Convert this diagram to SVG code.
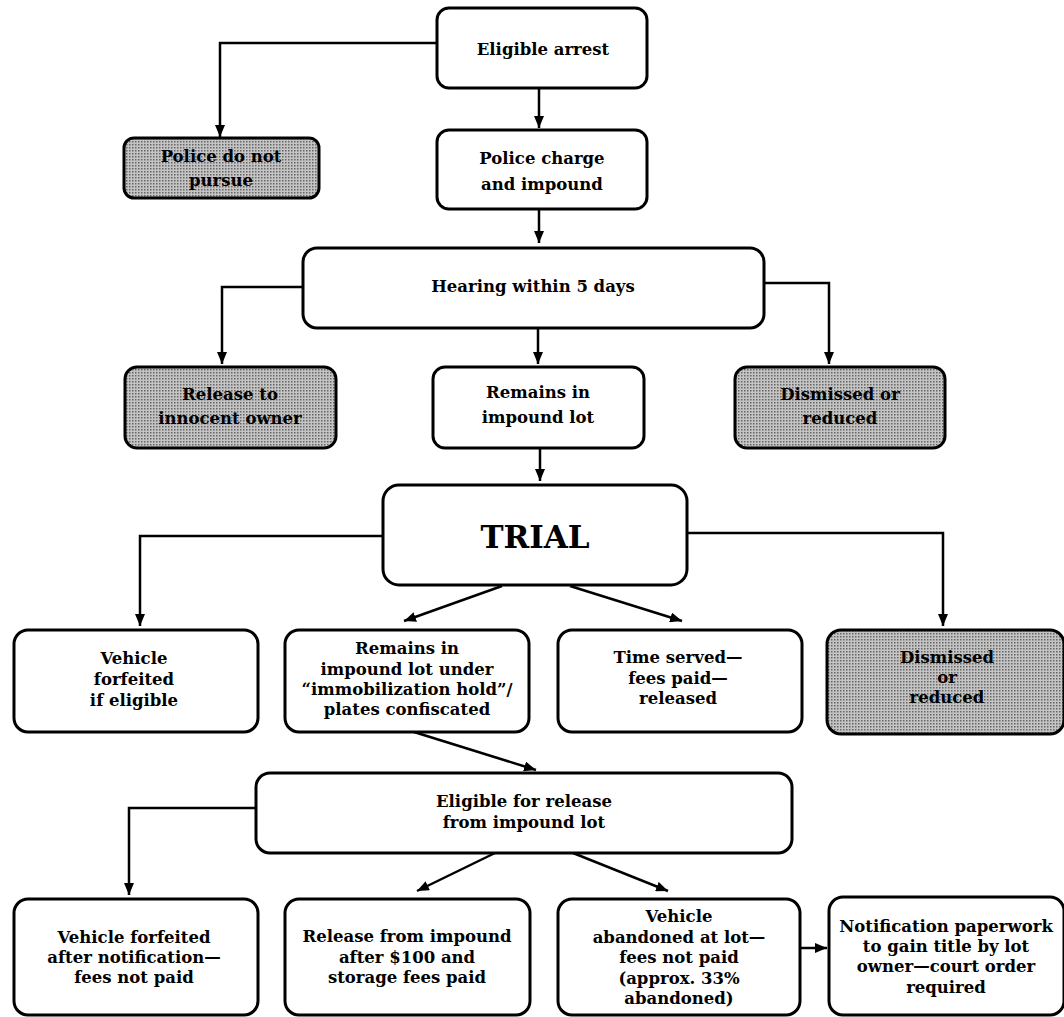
<svg xmlns="http://www.w3.org/2000/svg" width="1064" height="1017" viewBox="0 0 1064 1017">
<defs>
<pattern id="dots" width="3" height="3" patternUnits="userSpaceOnUse">
<rect width="3" height="3" fill="#c4c4c4"/>
<rect width="1.5" height="1.5" fill="#666"/>
</pattern>
<marker id="arr" viewBox="0 0 12 10" refX="12" refY="5" markerWidth="12" markerHeight="10" markerUnits="userSpaceOnUse" orient="auto">
<path d="M0,0 L12,5 L0,10 z" fill="#000"/>
</marker>
<style>
.box{fill:#fff;stroke:#000;stroke-width:3}
.shade{fill:url(#dots);stroke:#000;stroke-width:3}
.t{font-family:"DejaVu Serif","Liberation Serif",serif;font-weight:bold;font-size:16.5px;text-anchor:middle;fill:#000}
.big{font-size:31px}
.c{fill:none;stroke:#000;stroke-width:2.5;marker-end:url(#arr)}
</style>
</defs>
<rect width="1064" height="1017" fill="#fff"/>
<g id="connectors">
<path class="c" d="M437,43 H220 V137"/>
<path class="c" d="M539,88 V128"/>
<path class="c" d="M539,209 V243"/>
<path class="c" d="M303,287 H222 V364"/>
<path class="c" d="M538,328 V364"/>
<path class="c" d="M764,283 H829 V364"/>
<path class="c" d="M540,448 V481"/>
<path class="c" d="M383,536 H140 V626"/>
<path class="c" d="M687,533 H943 V626"/>
<path class="c" d="M502,586 L404,621"/>
<path class="c" d="M570,586 L682,621"/>
<path class="c" d="M414,732 L536,770"/>
<path class="c" d="M256,808 H129 V895"/>
<path class="c" d="M495,853 L417,891"/>
<path class="c" d="M573,853 L668,891"/>
<path class="c" d="M800,948 H827"/>
</g>
<g id="eligible-arrest"><rect class="box" x="437" y="8" width="210" height="80" rx="12"/><text class="t" x="543" y="55">Eligible arrest</text></g>
<g id="police-not-pursue"><rect class="shade" x="124" y="138" width="195" height="60" rx="10"/><text class="t" x="221" y="162">Police do not</text><text class="t" x="221" y="186">pursue</text></g>
<g id="police-charge"><rect class="box" x="437" y="130" width="210" height="79" rx="12"/><text class="t" x="542" y="164">Police charge</text><text class="t" x="542" y="190">and impound</text></g>
<g id="hearing"><rect class="box" x="303" y="248" width="461" height="80" rx="14"/><text class="t" x="533" y="292">Hearing within 5 days</text></g>
<g id="release-innocent"><rect class="shade" x="125" y="367" width="211" height="81" rx="12"/><text class="t" x="230" y="400">Release to</text><text class="t" x="230" y="424">innocent owner</text></g>
<g id="remains-impound"><rect class="box" x="433" y="367" width="211" height="81" rx="12"/><text class="t" x="538" y="398">Remains in</text><text class="t" x="538" y="423">impound lot</text></g>
<g id="dismissed-1"><rect class="shade" x="735" y="367" width="210" height="81" rx="12"/><text class="t" x="840" y="400">Dismissed  or</text><text class="t" x="840" y="424">reduced</text></g>
<g id="trial"><rect class="box" x="383" y="485" width="304" height="100" rx="16"/><text class="t big" x="535" y="548">TRIAL</text></g>
<g id="vehicle-forfeited-eligible"><rect class="box" x="14" y="630" width="244" height="102" rx="14"/><text class="t" x="134" y="664">Vehicle</text><text class="t" x="134" y="685">forfeited</text><text class="t" x="134" y="706">if eligible</text></g>
<g id="remains-hold"><rect class="box" x="285" y="630" width="244" height="102" rx="14"/><text class="t" x="407" y="654">Remains in</text><text class="t" x="407" y="675">impound lot under</text><text class="t" x="407" y="695">“immobilization hold”/</text><text class="t" x="407" y="715">plates confiscated</text></g>
<g id="time-served"><rect class="box" x="558" y="630" width="244" height="102" rx="14"/><text class="t" x="678" y="663">Time served—</text><text class="t" x="678" y="684">fees paid—</text><text class="t" x="678" y="704">released</text></g>
<g id="dismissed-2"><rect class="shade" x="827" y="630" width="237" height="104" rx="14"/><text class="t" x="947" y="663">Dismissed</text><text class="t" x="947" y="683">or</text><text class="t" x="947" y="703">reduced</text></g>
<g id="eligible-release"><rect class="box" x="256" y="773" width="536" height="80" rx="14"/><text class="t" x="524" y="807">Eligible for release</text><text class="t" x="524" y="828">from impound lot</text></g>
<g id="forfeited-notification"><rect class="box" x="14" y="899" width="244" height="116" rx="14"/><text class="t" x="134" y="943">Vehicle forfeited</text><text class="t" x="134" y="963">after notification—</text><text class="t" x="134" y="983">fees not paid</text></g>
<g id="release-100"><rect class="box" x="285" y="899" width="245" height="116" rx="14"/><text class="t" x="407" y="942">Release from impound</text><text class="t" x="407" y="963">after $100 and</text><text class="t" x="407" y="983">storage fees paid</text></g>
<g id="abandoned"><rect class="box" x="558" y="899" width="242" height="116" rx="14"/><text class="t" x="679" y="922">Vehicle</text><text class="t" x="679" y="943">abandoned at lot—</text><text class="t" x="679" y="963">fees not paid</text><text class="t" x="679" y="984">(approx. 33%</text><text class="t" x="679" y="1004">abandoned)</text></g>
<g id="notification"><rect class="box" x="829" y="897" width="235" height="118" rx="14"/><text class="t" x="946" y="932">Notification paperwork</text><text class="t" x="946" y="952">to gain title by lot</text><text class="t" x="946" y="972">owner—court order</text><text class="t" x="946" y="993">required</text></g>
</svg>
